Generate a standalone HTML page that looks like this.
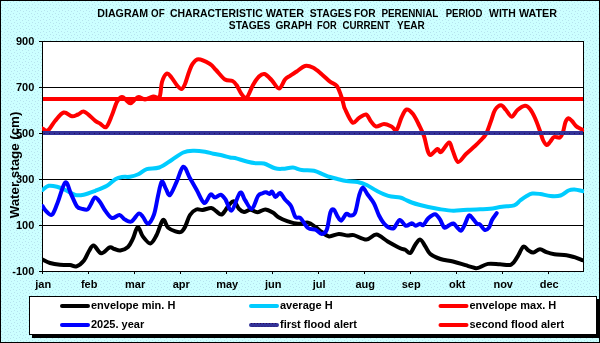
<!DOCTYPE html>
<html><head><meta charset="utf-8"><style>
html,body{margin:0;padding:0;background:#ccffff;}
body{width:600px;height:343px;overflow:hidden;}
svg{display:block;will-change:transform;}
text{font-family:"Liberation Sans",sans-serif;font-weight:bold;}
</style></head><body>
<svg width="600" height="343" viewBox="0 0 600 343">
<defs>
<pattern id="dots" x="0" y="0" width="6" height="6" patternUnits="userSpaceOnUse">
<rect width="6" height="6" fill="#ccffff"/>
<rect x="1" y="1" width="1" height="1" fill="#b6e3ee"/>
<rect x="4" y="2" width="1" height="1" fill="#b6e3ee"/>
<rect x="2" y="4" width="1" height="1" fill="#b6e3ee"/>
<rect x="5" y="5" width="1" height="1" fill="#b6e3ee"/>
</pattern>
<clipPath id="plotclip"><rect x="42" y="41" width="542" height="231"/></clipPath>
</defs>

<rect x="0" y="0" width="600" height="343" fill="url(#dots)"/>
<rect x="0.5" y="0.5" width="599" height="342" fill="none" stroke="#000" stroke-width="1"/>
<text x="97.30" y="17.00" font-size="10.5" textLength="50.80" lengthAdjust="spacingAndGlyphs">DIAGRAM</text>
<text x="151.10" y="17.00" font-size="10.5" textLength="13.60" lengthAdjust="spacingAndGlyphs">OF</text>
<text x="169.90" y="17.00" font-size="10.5" textLength="92.80" lengthAdjust="spacingAndGlyphs">CHARACTERISTIC</text>
<text x="265.70" y="17.00" font-size="10.5" textLength="38.40" lengthAdjust="spacingAndGlyphs">WATER</text>
<text x="309.70" y="17.00" font-size="10.5" textLength="42.00" lengthAdjust="spacingAndGlyphs">STAGES</text>
<text x="354.10" y="17.00" font-size="10.5" textLength="21.60" lengthAdjust="spacingAndGlyphs">FOR</text>
<text x="381.40" y="17.00" font-size="10.5" textLength="57.00" lengthAdjust="spacingAndGlyphs">PERENNIAL</text>
<text x="445.70" y="17.00" font-size="10.5" textLength="36.70" lengthAdjust="spacingAndGlyphs">PERIOD</text>
<text x="489.10" y="17.00" font-size="10.5" textLength="26.60" lengthAdjust="spacingAndGlyphs">WITH</text>
<text x="518.90" y="17.00" font-size="10.5" textLength="38.10" lengthAdjust="spacingAndGlyphs">WATER</text>
<text x="228.80" y="29.00" font-size="10.5" textLength="41.60" lengthAdjust="spacingAndGlyphs">STAGES</text>
<text x="275.40" y="29.00" font-size="10.5" textLength="36.70" lengthAdjust="spacingAndGlyphs">GRAPH</text>
<text x="317.10" y="29.00" font-size="10.5" textLength="19.60" lengthAdjust="spacingAndGlyphs">FOR</text>
<text x="342.40" y="29.00" font-size="10.5" textLength="47.60" lengthAdjust="spacingAndGlyphs">CURRENT</text>
<text x="397.00" y="29.00" font-size="10.5" textLength="27.80" lengthAdjust="spacingAndGlyphs">YEAR</text>
<rect x="42.0" y="41.0" width="541" height="230" fill="#fff" stroke="none"/>
<line x1="42" y1="87.5" x2="583" y2="87.5" stroke="#000" stroke-width="1"/>
<line x1="42" y1="179.5" x2="583" y2="179.5" stroke="#000" stroke-width="1"/>
<line x1="42" y1="225.5" x2="583" y2="225.5" stroke="#000" stroke-width="1"/>
<rect x="42.5" y="41.5" width="541" height="230" fill="none" stroke="#000" stroke-width="1"/>
<line x1="39" y1="41.5" x2="42" y2="41.5" stroke="#000" stroke-width="1"/>
<text x="34.3" y="45.0" font-size="11" text-anchor="end">900</text>
<line x1="39" y1="87.5" x2="42" y2="87.5" stroke="#000" stroke-width="1"/>
<text x="34.3" y="91.0" font-size="11" text-anchor="end">700</text>
<line x1="39" y1="133.5" x2="42" y2="133.5" stroke="#000" stroke-width="1"/>
<text x="34.3" y="137.0" font-size="11" text-anchor="end">500</text>
<line x1="39" y1="179.5" x2="42" y2="179.5" stroke="#000" stroke-width="1"/>
<text x="34.3" y="183.0" font-size="11" text-anchor="end">300</text>
<line x1="39" y1="225.5" x2="42" y2="225.5" stroke="#000" stroke-width="1"/>
<text x="34.3" y="229.0" font-size="11" text-anchor="end">100</text>
<line x1="39" y1="271.5" x2="42" y2="271.5" stroke="#000" stroke-width="1"/>
<text x="34.3" y="275.0" font-size="11" text-anchor="end">-100</text>
<line x1="42.5" y1="271" x2="42.5" y2="274" stroke="#000" stroke-width="1"/>
<text x="43.2" y="288" font-size="11" text-anchor="middle">jan</text>
<line x1="88.5" y1="271" x2="88.5" y2="274" stroke="#000" stroke-width="1"/>
<text x="89.2" y="288" font-size="11" text-anchor="middle">feb</text>
<line x1="134.5" y1="271" x2="134.5" y2="274" stroke="#000" stroke-width="1"/>
<text x="135.2" y="288" font-size="11" text-anchor="middle">mar</text>
<line x1="180.5" y1="271" x2="180.5" y2="274" stroke="#000" stroke-width="1"/>
<text x="181.2" y="288" font-size="11" text-anchor="middle">apr</text>
<line x1="226.5" y1="271" x2="226.5" y2="274" stroke="#000" stroke-width="1"/>
<text x="227.2" y="288" font-size="11" text-anchor="middle">may</text>
<line x1="272.5" y1="271" x2="272.5" y2="274" stroke="#000" stroke-width="1"/>
<text x="273.2" y="288" font-size="11" text-anchor="middle">jun</text>
<line x1="318.5" y1="271" x2="318.5" y2="274" stroke="#000" stroke-width="1"/>
<text x="319.2" y="288" font-size="11" text-anchor="middle">jul</text>
<line x1="364.5" y1="271" x2="364.5" y2="274" stroke="#000" stroke-width="1"/>
<text x="365.2" y="288" font-size="11" text-anchor="middle">aug</text>
<line x1="410.5" y1="271" x2="410.5" y2="274" stroke="#000" stroke-width="1"/>
<text x="411.2" y="288" font-size="11" text-anchor="middle">sep</text>
<line x1="456.5" y1="271" x2="456.5" y2="274" stroke="#000" stroke-width="1"/>
<text x="457.2" y="288" font-size="11" text-anchor="middle">okt</text>
<line x1="502.5" y1="271" x2="502.5" y2="274" stroke="#000" stroke-width="1"/>
<text x="503.2" y="288" font-size="11" text-anchor="middle">nov</text>
<line x1="548.5" y1="271" x2="548.5" y2="274" stroke="#000" stroke-width="1"/>
<text x="549.2" y="288" font-size="11" text-anchor="middle">dec</text>
<text transform="translate(18.6,165) rotate(-90)" x="0" y="0" font-size="13.3" text-anchor="middle">Water stage (cm)</text>
<g clip-path="url(#plotclip)" fill="none" stroke-width="4" stroke-linejoin="round" stroke-linecap="round">
<path d="M42.50,259.50 C43.75,260.08 47.08,262.12 50.00,263.00 C52.92,263.88 56.67,264.47 60.00,264.80 C63.33,265.13 67.25,264.75 70.00,265.00 C72.75,265.25 74.17,267.05 76.50,266.30 C78.83,265.55 81.92,263.05 84.00,260.50 C86.08,257.95 87.38,253.50 89.00,251.00 C90.62,248.50 91.67,245.12 93.70,245.50 C95.73,245.88 98.57,252.97 101.20,253.30 C103.83,253.63 107.28,248.22 109.50,247.50 C111.72,246.78 112.70,248.50 114.50,249.00 C116.30,249.50 118.05,250.83 120.30,250.50 C122.55,250.17 125.92,248.93 128.00,247.00 C130.08,245.07 131.17,242.23 132.80,238.90 C134.43,235.57 136.13,227.42 137.80,227.00 C139.47,226.58 140.70,233.67 142.80,236.40 C144.90,239.13 148.10,243.63 150.40,243.40 C152.70,243.17 154.50,238.90 156.60,235.00 C158.70,231.10 161.10,221.23 163.00,220.00 C164.90,218.77 165.93,225.70 168.00,227.60 C170.07,229.50 173.23,230.67 175.40,231.40 C177.57,232.13 179.40,232.73 181.00,232.00 C182.60,231.27 183.50,229.83 185.00,227.00 C186.50,224.17 188.12,217.92 190.00,215.00 C191.88,212.08 194.20,210.33 196.30,209.50 C198.40,208.67 200.10,210.25 202.60,210.00 C205.10,209.75 209.02,207.78 211.30,208.00 C213.58,208.22 214.52,210.23 216.30,211.30 C218.08,212.37 219.88,215.45 222.00,214.40 C224.12,213.35 227.00,207.18 229.00,205.00 C231.00,202.82 232.33,200.67 234.00,201.30 C235.67,201.93 237.33,207.02 239.00,208.80 C240.67,210.58 242.12,211.83 244.00,212.00 C245.88,212.17 248.02,209.77 250.30,209.80 C252.58,209.83 255.20,212.25 257.70,212.20 C260.20,212.15 262.78,209.43 265.30,209.50 C267.82,209.57 270.52,211.27 272.80,212.60 C275.08,213.93 276.50,216.05 279.00,217.50 C281.50,218.95 284.63,220.25 287.80,221.30 C290.97,222.35 294.63,223.58 298.00,223.80 C301.37,224.02 305.10,222.07 308.00,222.60 C310.90,223.13 313.12,225.43 315.40,227.00 C317.68,228.57 319.43,230.43 321.70,232.00 C323.97,233.57 326.15,236.08 329.00,236.40 C331.85,236.72 335.70,234.03 338.80,233.90 C341.90,233.77 345.10,235.40 347.60,235.60 C350.10,235.80 350.67,234.43 353.80,235.10 C356.93,235.77 362.63,239.68 366.40,239.60 C370.17,239.52 372.85,234.30 376.40,234.60 C379.95,234.90 383.73,239.13 387.70,241.40 C391.67,243.67 397.28,246.82 400.20,248.20 C403.12,249.58 403.52,248.90 405.20,249.70 C406.88,250.50 408.62,253.83 410.30,253.00 C411.98,252.17 413.63,246.93 415.30,244.70 C416.97,242.47 418.63,239.32 420.30,239.60 C421.97,239.88 423.63,244.00 425.30,246.40 C426.97,248.80 427.78,251.90 430.30,254.00 C432.82,256.10 436.62,257.75 440.40,259.00 C444.18,260.25 448.83,260.47 453.00,261.50 C457.17,262.53 461.87,264.17 465.40,265.20 C468.93,266.23 472.10,267.25 474.20,267.70 C476.30,268.15 475.70,268.53 478.00,267.90 C480.30,267.27 484.33,264.50 488.00,263.90 C491.67,263.30 496.13,264.17 500.00,264.30 C503.87,264.43 508.33,265.88 511.20,264.70 C514.07,263.52 515.18,260.22 517.20,257.20 C519.22,254.18 521.45,247.77 523.30,246.60 C525.15,245.43 526.63,249.20 528.30,250.20 C529.97,251.20 531.35,252.77 533.30,252.60 C535.25,252.43 537.82,249.27 540.00,249.20 C542.18,249.13 544.00,251.37 546.40,252.20 C548.80,253.03 551.05,253.70 554.40,254.20 C557.75,254.70 563.15,254.70 566.50,255.20 C569.85,255.70 571.82,256.37 574.50,257.20 C577.18,258.03 581.25,259.70 582.60,260.20" stroke="#000"/>
<path d="M42.50,190.00 C43.53,189.30 46.28,186.35 48.70,185.80 C51.12,185.25 54.23,186.00 57.00,186.70 C59.77,187.40 62.25,188.62 65.30,190.00 C68.35,191.38 72.23,194.22 75.30,195.00 C78.37,195.78 80.37,195.40 83.70,194.70 C87.03,194.00 91.42,192.28 95.30,190.80 C99.18,189.32 103.67,187.73 107.00,185.80 C110.33,183.87 112.80,180.67 115.30,179.20 C117.80,177.73 119.55,177.42 122.00,177.00 C124.45,176.58 127.28,177.17 130.00,176.70 C132.72,176.23 135.52,175.45 138.30,174.20 C141.08,172.95 143.22,170.32 146.70,169.20 C150.18,168.08 155.03,169.03 159.20,167.50 C163.37,165.97 167.68,162.50 171.70,160.00 C175.72,157.50 179.70,154.03 183.30,152.50 C186.90,150.97 189.68,150.93 193.30,150.80 C196.92,150.67 201.67,151.22 205.00,151.70 C208.33,152.18 210.37,153.07 213.30,153.70 C216.23,154.33 219.82,154.87 222.60,155.50 C225.38,156.13 227.93,157.08 230.00,157.50 C232.07,157.92 232.05,157.28 235.00,158.00 C237.95,158.72 244.12,160.92 247.70,161.80 C251.28,162.68 253.78,163.02 256.50,163.30 C259.22,163.58 260.92,162.67 264.00,163.50 C267.08,164.33 271.83,167.42 275.00,168.30 C278.17,169.18 280.00,168.92 283.00,168.80 C286.00,168.68 289.88,167.40 293.00,167.60 C296.12,167.80 298.20,169.47 301.70,170.00 C305.20,170.53 310.45,170.07 314.00,170.80 C317.55,171.53 320.33,173.37 323.00,174.40 C325.67,175.43 327.58,176.23 330.00,177.00 C332.42,177.77 334.78,178.33 337.50,179.00 C340.22,179.67 342.95,180.50 346.30,181.00 C349.65,181.50 354.20,181.33 357.60,182.00 C361.00,182.67 363.52,183.53 366.70,185.00 C369.88,186.47 373.10,189.00 376.70,190.80 C380.30,192.60 384.42,194.68 388.30,195.80 C392.18,196.92 397.22,196.88 400.00,197.50 C402.78,198.12 403.05,198.67 405.00,199.50 C406.95,200.33 409.20,201.58 411.70,202.50 C414.20,203.42 417.23,204.25 420.00,205.00 C422.77,205.75 424.97,206.30 428.30,207.00 C431.63,207.70 435.83,208.57 440.00,209.20 C444.17,209.83 449.42,210.67 453.30,210.80 C457.18,210.93 460.52,210.18 463.30,210.00 C466.08,209.82 467.22,209.82 470.00,209.70 C472.78,209.58 476.67,209.45 480.00,209.30 C483.33,209.15 486.33,209.22 490.00,208.80 C493.67,208.38 497.97,207.38 502.00,206.80 C506.03,206.22 511.17,206.35 514.20,205.30 C517.23,204.25 518.18,202.02 520.20,200.50 C522.22,198.98 524.28,197.37 526.30,196.20 C528.32,195.03 529.97,193.87 532.30,193.50 C534.63,193.13 537.28,193.58 540.30,194.00 C543.32,194.42 547.03,195.75 550.40,196.00 C553.77,196.25 557.48,196.42 560.50,195.50 C563.52,194.58 566.17,191.50 568.50,190.50 C570.83,189.50 572.08,189.38 574.50,189.50 C576.92,189.62 581.58,190.92 583.00,191.20" stroke="#00ccff"/>
<path d="M42.50,128.50 C43.38,128.83 45.72,131.75 47.80,130.50 C49.88,129.25 52.35,124.00 55.00,121.00 C57.65,118.00 60.87,113.28 63.70,112.50 C66.53,111.72 69.62,115.97 72.00,116.30 C74.38,116.63 75.92,115.25 78.00,114.50 C80.08,113.75 81.62,110.75 84.50,111.80 C87.38,112.85 92.72,118.85 95.30,120.80 C97.88,122.75 98.18,122.47 100.00,123.50 C101.82,124.53 104.20,128.42 106.20,127.00 C108.20,125.58 110.20,119.22 112.00,115.00 C113.80,110.78 115.33,104.70 117.00,101.70 C118.67,98.70 120.50,97.28 122.00,97.00 C123.50,96.72 124.62,98.95 126.00,100.00 C127.38,101.05 128.80,103.38 130.30,103.30 C131.80,103.22 133.60,100.55 135.00,99.50 C136.40,98.45 137.03,97.00 138.70,97.00 C140.37,97.00 142.57,99.58 145.00,99.50 C147.43,99.42 150.88,96.92 153.30,96.50 C155.72,96.08 158.05,99.42 159.50,97.00 C160.95,94.58 160.78,85.92 162.00,82.00 C163.22,78.08 165.22,74.25 166.80,73.50 C168.38,72.75 169.72,75.42 171.50,77.50 C173.28,79.58 175.80,84.08 177.50,86.00 C179.20,87.92 180.45,89.33 181.70,89.00 C182.95,88.67 183.78,86.83 185.00,84.00 C186.22,81.17 187.75,75.33 189.00,72.00 C190.25,68.67 190.95,66.13 192.50,64.00 C194.05,61.87 195.38,59.20 198.30,59.20 C201.22,59.20 207.05,62.20 210.00,64.00 C212.95,65.80 213.50,67.42 216.00,70.00 C218.50,72.58 222.25,77.67 225.00,79.50 C227.75,81.33 230.58,80.08 232.50,81.00 C234.42,81.92 235.00,82.83 236.50,85.00 C238.00,87.17 239.80,91.92 241.50,94.00 C243.20,96.08 244.78,99.00 246.70,97.50 C248.62,96.00 250.95,88.50 253.00,85.00 C255.05,81.50 257.08,78.33 259.00,76.50 C260.92,74.67 262.42,73.42 264.50,74.00 C266.58,74.58 269.08,77.58 271.50,80.00 C273.92,82.42 276.75,88.58 279.00,88.50 C281.25,88.42 283.17,81.62 285.00,79.50 C286.83,77.38 288.05,77.13 290.00,75.80 C291.95,74.47 294.20,73.13 296.70,71.50 C299.20,69.87 302.23,66.62 305.00,66.00 C307.77,65.38 310.52,66.43 313.30,67.80 C316.08,69.17 318.92,71.88 321.70,74.20 C324.48,76.52 327.50,79.77 330.00,81.70 C332.50,83.63 334.90,83.58 336.70,85.80 C338.50,88.02 339.70,92.08 340.80,95.00 C341.90,97.92 342.60,100.97 343.30,103.30 C344.00,105.63 343.47,105.80 345.00,109.00 C346.53,112.20 350.17,121.00 352.50,122.50 C354.83,124.00 356.75,119.33 359.00,118.00 C361.25,116.67 364.00,113.92 366.00,114.50 C368.00,115.08 369.33,119.50 371.00,121.50 C372.67,123.50 373.83,126.08 376.00,126.50 C378.17,126.92 381.42,124.00 384.00,124.00 C386.58,124.00 389.42,125.50 391.50,126.50 C393.58,127.50 394.83,131.50 396.50,130.00 C398.17,128.50 399.83,120.92 401.50,117.50 C403.17,114.08 404.58,110.08 406.50,109.50 C408.42,108.92 410.92,111.42 413.00,114.00 C415.08,116.58 417.17,121.33 419.00,125.00 C420.83,128.67 422.58,131.83 424.00,136.00 C425.42,140.17 426.42,146.83 427.50,150.00 C428.58,153.17 428.83,155.17 430.50,155.00 C432.17,154.83 435.75,149.50 437.50,149.00 C439.25,148.50 439.08,153.08 441.00,152.00 C442.92,150.92 447.08,142.83 449.00,142.50 C450.92,142.17 451.00,146.75 452.50,150.00 C454.00,153.25 455.75,161.33 458.00,162.00 C460.25,162.67 463.17,156.67 466.00,154.00 C468.83,151.33 472.67,148.17 475.00,146.00 C477.33,143.83 478.17,143.00 480.00,141.00 C481.83,139.00 484.17,137.33 486.00,134.00 C487.83,130.67 489.50,125.00 491.00,121.00 C492.50,117.00 493.33,112.62 495.00,110.00 C496.67,107.38 499.17,105.30 501.00,105.30 C502.83,105.30 504.22,108.10 506.00,110.00 C507.78,111.90 509.78,116.70 511.70,116.70 C513.62,116.70 515.28,111.82 517.50,110.00 C519.72,108.18 522.92,105.97 525.00,105.80 C527.08,105.63 528.33,106.97 530.00,109.00 C531.67,111.03 533.33,114.33 535.00,118.00 C536.67,121.67 538.67,127.33 540.00,131.00 C541.33,134.67 541.88,137.67 543.00,140.00 C544.12,142.33 545.53,144.67 546.70,145.00 C547.87,145.33 548.78,143.33 550.00,142.00 C551.22,140.67 552.33,137.75 554.00,137.00 C555.67,136.25 558.50,138.33 560.00,137.50 C561.50,136.67 562.08,134.58 563.00,132.00 C563.92,129.42 564.58,124.28 565.50,122.00 C566.42,119.72 567.42,118.47 568.50,118.30 C569.58,118.13 570.75,119.72 572.00,121.00 C573.25,122.28 574.67,124.75 576.00,126.00 C577.33,127.25 578.83,127.83 580.00,128.50 C581.17,129.17 582.50,129.75 583.00,130.00" stroke="#ff0000"/>
<path d="M42.50,206.00 C43.08,206.83 44.42,209.55 46.00,211.00 C47.58,212.45 50.08,216.03 52.00,214.70 C53.92,213.37 55.28,208.37 57.50,203.00 C59.72,197.63 63.05,184.00 65.30,182.50 C67.55,181.00 69.05,190.00 71.00,194.00 C72.95,198.00 75.17,204.03 77.00,206.50 C78.83,208.97 80.25,208.30 82.00,208.80 C83.75,209.30 86.08,210.13 87.50,209.50 C88.92,208.87 89.25,207.00 90.50,205.00 C91.75,203.00 93.37,197.92 95.00,197.50 C96.63,197.08 98.58,200.28 100.30,202.50 C102.02,204.72 103.35,208.22 105.30,210.80 C107.25,213.38 109.63,217.30 112.00,218.00 C114.37,218.70 117.33,214.73 119.50,215.00 C121.67,215.27 123.00,218.52 125.00,219.60 C127.00,220.68 129.22,222.52 131.50,221.50 C133.78,220.48 136.78,214.25 138.70,213.50 C140.62,212.75 141.45,215.30 143.00,217.00 C144.55,218.70 146.17,224.12 148.00,223.70 C149.83,223.28 152.33,219.12 154.00,214.50 C155.67,209.88 156.72,201.47 158.00,196.00 C159.28,190.53 160.37,182.87 161.70,181.70 C163.03,180.53 164.62,186.78 166.00,189.00 C167.38,191.22 168.22,196.22 170.00,195.00 C171.78,193.78 174.48,186.42 176.70,181.70 C178.92,176.98 181.08,167.27 183.30,166.70 C185.52,166.13 187.77,174.42 190.00,178.30 C192.23,182.18 194.33,185.88 196.70,190.00 C199.07,194.12 201.90,202.25 204.20,203.00 C206.50,203.75 208.70,195.42 210.50,194.50 C212.30,193.58 213.28,197.47 215.00,197.50 C216.72,197.53 219.05,194.37 220.80,194.70 C222.55,195.03 223.68,196.87 225.50,199.50 C227.32,202.13 229.28,211.63 231.70,210.50 C234.12,209.37 237.78,194.45 240.00,192.70 C242.22,190.95 243.03,197.28 245.00,200.00 C246.97,202.72 249.63,209.67 251.80,209.00 C253.97,208.33 256.30,198.58 258.00,196.00 C259.70,193.42 260.67,194.12 262.00,193.50 C263.33,192.88 264.75,192.22 266.00,192.30 C267.25,192.38 268.50,194.13 269.50,194.00 C270.50,193.87 271.00,191.00 272.00,191.50 C273.00,192.00 274.17,196.75 275.50,197.00 C276.83,197.25 278.42,192.58 280.00,193.00 C281.58,193.42 283.17,197.33 285.00,199.50 C286.83,201.67 289.27,203.08 291.00,206.00 C292.73,208.92 293.83,215.00 295.40,217.00 C296.97,219.00 298.30,216.17 300.40,218.00 C302.50,219.83 305.50,226.07 308.00,228.00 C310.50,229.93 313.12,228.62 315.40,229.60 C317.68,230.58 319.82,233.83 321.70,233.90 C323.58,233.97 325.25,233.57 326.70,230.00 C328.15,226.43 329.22,215.92 330.40,212.50 C331.58,209.08 332.62,208.87 333.80,209.50 C334.98,210.13 336.25,214.45 337.50,216.30 C338.75,218.15 339.83,221.02 341.30,220.60 C342.77,220.18 344.85,214.65 346.30,213.80 C347.75,212.95 348.55,215.63 350.00,215.50 C351.45,215.37 353.50,216.25 355.00,213.00 C356.50,209.75 357.73,200.23 359.00,196.00 C360.27,191.77 361.17,187.85 362.60,187.60 C364.03,187.35 365.70,191.85 367.60,194.50 C369.50,197.15 372.10,200.00 374.00,203.50 C375.90,207.00 377.33,212.17 379.00,215.50 C380.67,218.83 382.33,221.48 384.00,223.50 C385.67,225.52 387.33,226.85 389.00,227.60 C390.67,228.35 392.22,229.27 394.00,228.00 C395.78,226.73 397.73,220.37 399.70,220.00 C401.67,219.63 403.80,225.25 405.80,225.80 C407.80,226.35 410.03,223.30 411.70,223.30 C413.37,223.30 414.42,225.73 415.80,225.80 C417.18,225.87 418.75,223.83 420.00,223.70 C421.25,223.57 421.92,225.90 423.30,225.00 C424.68,224.10 426.35,220.10 428.30,218.30 C430.25,216.50 433.08,214.05 435.00,214.20 C436.92,214.35 438.23,216.97 439.80,219.20 C441.37,221.43 442.87,226.58 444.40,227.60 C445.93,228.62 447.48,225.98 449.00,225.30 C450.52,224.62 452.12,223.12 453.50,223.50 C454.88,223.88 456.05,226.42 457.30,227.60 C458.55,228.78 459.75,231.12 461.00,230.60 C462.25,230.08 463.47,227.02 464.80,224.50 C466.13,221.98 467.60,216.38 469.00,215.50 C470.40,214.62 471.87,217.82 473.20,219.20 C474.53,220.58 475.87,222.92 477.00,223.80 C478.13,224.68 478.75,223.50 480.00,224.50 C481.25,225.50 483.00,229.28 484.50,229.80 C486.00,230.32 487.75,229.23 489.00,227.60 C490.25,225.97 490.72,222.40 492.00,220.00 C493.28,217.60 495.92,214.33 496.70,213.20" stroke="#0000ff"/>
</g>
<rect x="43" y="131" width="540" height="4" fill="#333399"/>
<line x1="44" y1="133.5" x2="583" y2="133.5" stroke="#2a0a5a" stroke-width="1" stroke-dasharray="1 4"/>
<rect x="43" y="97" width="540" height="4" fill="#ff0000"/>
<rect x="32" y="299" width="567" height="39" fill="#000"/>
<rect x="29.5" y="296.5" width="567" height="38" fill="#fff" stroke="#000" stroke-width="1"/>
<line x1="62.0" y1="306.0" x2="88.0" y2="306.0" stroke="#000" stroke-width="4" stroke-linecap="round"/>
<text x="91.0" y="308.8" font-size="11">envelope min. H</text>
<line x1="62.0" y1="325.0" x2="88.0" y2="325.0" stroke="#0000ff" stroke-width="4" stroke-linecap="round"/>
<text x="91.0" y="327.8" font-size="11">2025. year</text>
<line x1="251.0" y1="306.0" x2="277.0" y2="306.0" stroke="#00ccff" stroke-width="4" stroke-linecap="round"/>
<text x="280.0" y="308.8" font-size="11">average H</text>
<line x1="251.0" y1="325.0" x2="277.0" y2="325.0" stroke="#333399" stroke-width="4" stroke-linecap="round"/>
<text x="280.0" y="327.8" font-size="11">first flood alert</text>
<line x1="440.5" y1="306.0" x2="466.5" y2="306.0" stroke="#ff0000" stroke-width="4" stroke-linecap="round"/>
<text x="469.5" y="308.8" font-size="11">envelope max. H</text>
<line x1="440.5" y1="325.0" x2="466.5" y2="325.0" stroke="#ff0000" stroke-width="4" stroke-linecap="round"/>
<text x="469.5" y="327.8" font-size="11">second flood alert</text>
<line x1="251" y1="323.5" x2="278" y2="323.5" stroke="#2a0a5a" stroke-width="1" stroke-dasharray="1 2"/>
<line x1="252.5" y1="326.5" x2="278" y2="326.5" stroke="#2a0a5a" stroke-width="1" stroke-dasharray="1 2" opacity="0.6"/>
</svg></body></html>
